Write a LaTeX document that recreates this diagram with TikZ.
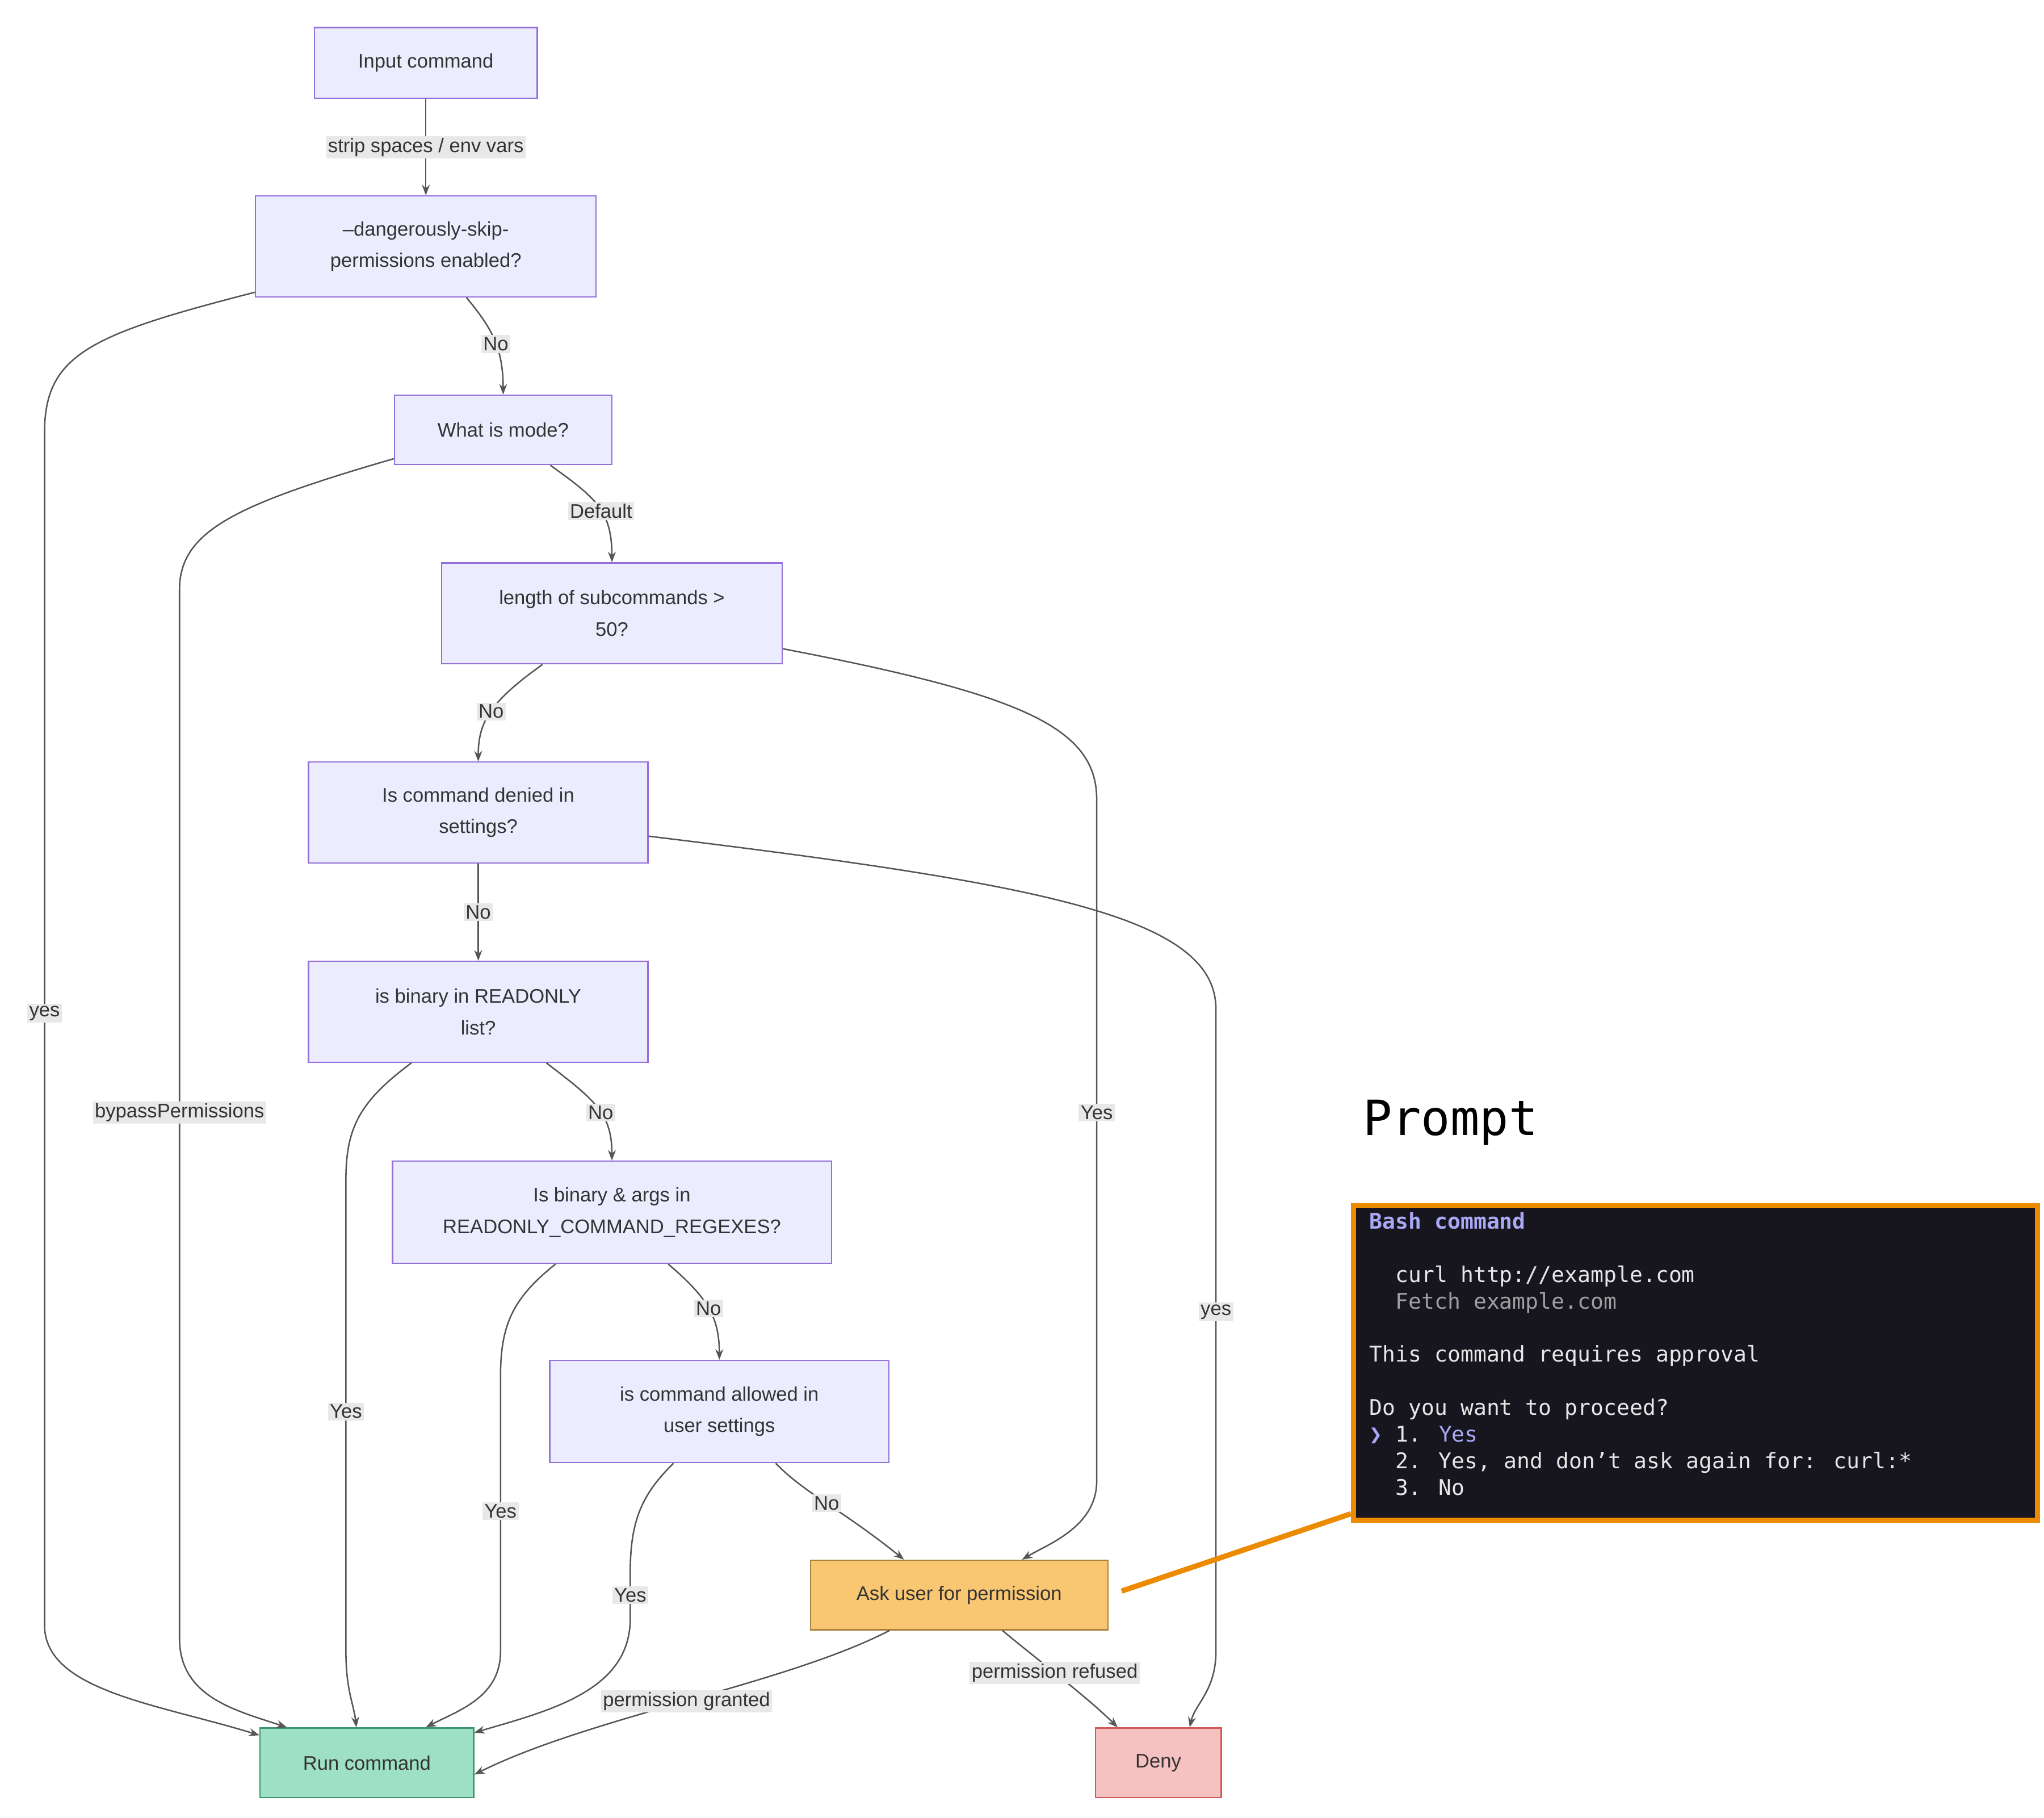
\documentclass[tikz,border=0pt]{standalone}
\usepackage{fontspec}
\setmainfont{Liberation Sans}
\newfontfamily\monof{DejaVu Sans Mono}
\usetikzlibrary{arrows.meta}
\definecolor{pfill}{HTML}{ECECFF}
\definecolor{pbord}{HTML}{9370DB}
\definecolor{edge}{HTML}{555555}
\definecolor{lblbg}{HTML}{E8E8E8}
\definecolor{txt}{HTML}{333333}
\definecolor{dark}{HTML}{17161F}
\definecolor{org}{HTML}{EC8A00}
\definecolor{lav}{HTML}{A9A9F5}
\definecolor{grey}{HTML}{E6E6E6}
\definecolor{dim}{HTML}{A0A0A0}
\definecolor{askf}{HTML}{F9C672}
\definecolor{askd}{HTML}{AA823C}
\definecolor{runf}{HTML}{9EE0C6}
\definecolor{rund}{HTML}{3C966E}
\definecolor{denf}{HTML}{F6C1C1}
\definecolor{dend}{HTML}{D05A5A}
\begin{document}
\begin{tikzpicture}[x=1pt,y=-1pt,
  box/.style={draw=pbord,fill=pfill,line width=1pt,inner sep=0pt,align=center,text=txt,font=\fontsize{15}{24}\selectfont},
  e/.style={draw=edge,line width=1.1pt,-{Stealth[length=8pt,width=6pt]}},
  lbl/.style={fill=lblbg,text=txt,inner sep=1.5pt,font=\fontsize{15}{18}\selectfont}]
\useasboundingbox (0,0) rectangle (1560,1387);
\node[box,minimum width=170pt,minimum height=54pt] (in) at (325,48) {Input command};
\node[box,minimum width=260pt,minimum height=77pt] (dsk) at (325,188) {--dangerously-skip-\\permissions enabled?};
\node[box,minimum width=166pt,minimum height=53pt] (mode) at (384,328) {What is mode?};
\node[box,minimum width=260pt,minimum height=77pt] (len) at (467,468) {length of subcommands >\\50?};
\node[box,minimum width=259pt,minimum height=77pt] (den) at (365,620) {Is command denied in\\settings?};
\node[box,minimum width=259pt,minimum height=77pt] (ro) at (365,772) {is binary in READONLY\\list?};
\node[box,minimum width=335pt,minimum height=78pt] (rx) at (467,925) {Is binary \& args in\\READONLY\_COMMAND\_REGEXES?};
\node[box,minimum width=259pt,minimum height=78pt] (al) at (549,1077) {is command allowed in\\user settings};
\node[box,minimum width=227pt,minimum height=53pt,fill=askf,draw=askd] (ask) at (732,1217) {Ask user for permission};
\node[box,minimum width=163pt,minimum height=53pt,fill=runf,draw=rund] (run) at (280,1345) {Run command};
\node[box,minimum width=96pt,minimum height=53pt,fill=denf,draw=dend] (deny) at (884,1345) {Deny};

\draw[e] (in) -- node[lbl]{strip spaces / env vars} (dsk);
\draw[e] ([yshift=-35pt]dsk.west) .. controls (70,255) and (34,270) .. (34,330) -- (34,1240) .. controls (34,1290) and (120,1300) .. ([yshift=-6pt]run.north west);
\node[lbl] at (34,773) {yes};
\draw[e] ([xshift=31pt]dsk.south) .. controls (375,250) and (384,265) .. node[lbl,pos=0.55]{No} (mode.north);
\draw[e] ([yshift=-22pt]mode.west) .. controls (180,385) and (137,405) .. (137,450) -- (137,1250) .. controls (137,1295) and (180,1305) .. ([xshift=21pt]run.north west);
\node[lbl] at (137,849) {bypassPermissions};
\draw[e] ([xshift=36pt]mode.south) .. controls (455,380) and (467,390) .. node[lbl,pos=0.55]{Default} (len.north);
\draw[e] ([yshift=-27pt]len.east) .. controls (780,530) and (837,555) .. (837,610) -- (837,1130) .. controls (837,1165) and (800,1178) .. ([xshift=48pt]ask.north);
\node[lbl] at (837,849) {Yes};
\draw[e] ([xshift=-53pt]len.south) .. controls (375,535) and (365,550) .. node[lbl,pos=0.5]{No} (den.north);
\draw[e] ([yshift=-18pt]den.east) .. controls (800,675) and (928,700) .. (928,770) -- (928,1260) .. controls (928,1290) and (912,1300) .. ([xshift=24pt]deny.north);
\node[lbl] at (928,1001) {yes};
\draw[e] (den) -- node[lbl]{No} (ro);
\draw[e] ([xshift=-51pt]ro.south) .. controls (275,840) and (264,860) .. (264,900) -- (264,1260) .. controls (264,1290) and (270,1300) .. ([xshift=-8pt]run.north);
\node[lbl] at (264,1077) {Yes};
\draw[e] ([xshift=52pt]ro.south) .. controls (455,840) and (467,850) .. node[lbl,pos=0.55]{No} (rx.north);
\draw[e] ([xshift=-43pt]rx.south) .. controls (392,990) and (382,1010) .. (382,1050) -- (382,1260) .. controls (382,1295) and (350,1305) .. ([xshift=45pt]run.north);
\node[lbl] at (382,1153) {Yes};
\draw[e] ([xshift=43pt]rx.south) .. controls (540,990) and (549,1005) .. node[lbl,pos=0.5]{No} (al.north);
\draw[e] ([xshift=-35pt]al.south) .. controls (490,1140) and (481,1160) .. (481,1200) -- (481,1235) .. controls (481,1290) and (420,1305) .. ([yshift=-4pt]run.north east);
\node[lbl] at (481,1217) {Yes};
\draw[e] ([xshift=43pt]al.south) .. controls (615,1140) and (640,1150) .. node[lbl,pos=0.5]{No} ([xshift=-42pt]ask.north);
\draw[e] ([xshift=-53pt]ask.south) .. controls (600,1285) and (450,1310) .. ([yshift=-9pt]run.east);
\node[lbl] at (524,1298) {permission granted};
\draw[e] ([xshift=33pt]ask.south) .. controls (790,1265) and (830,1295) .. node[lbl,pos=0.45]{permission refused} ([xshift=-31pt]deny.north);

\node[anchor=base west,inner sep=0pt,font=\monof\fontsize{37}{40}\selectfont] (pt) at (1040,866) {Prompt};
\node[draw=org,line width=4pt,fill=dark,minimum width=522pt,minimum height=240pt,inner sep=0pt] (pb) at (1294,1040) {};
\draw[org,line width=4pt] (856,1214) -- ([yshift=-115pt]pb.west);
\node[anchor=north west,inner sep=0pt,align=left,font=\monof\fontsize{16.5}{20.3}\selectfont,text=grey] (pbt) at (1045,925) {%
\textcolor{lav}{\bfseries Bash command}\\[20.3pt]
\ \ curl http://example.com\\
\ \ \textcolor{dim}{Fetch example.com}\\[20.3pt]
This command requires approval\\[20.3pt]
Do you want to proceed?\\
\textcolor{lav}{❯} 1. \textcolor{lav}{Yes}\\
\ \ 2. Yes, and don’t ask again for: curl:*\\
\ \ 3. No};
\end{tikzpicture}
\end{document}
